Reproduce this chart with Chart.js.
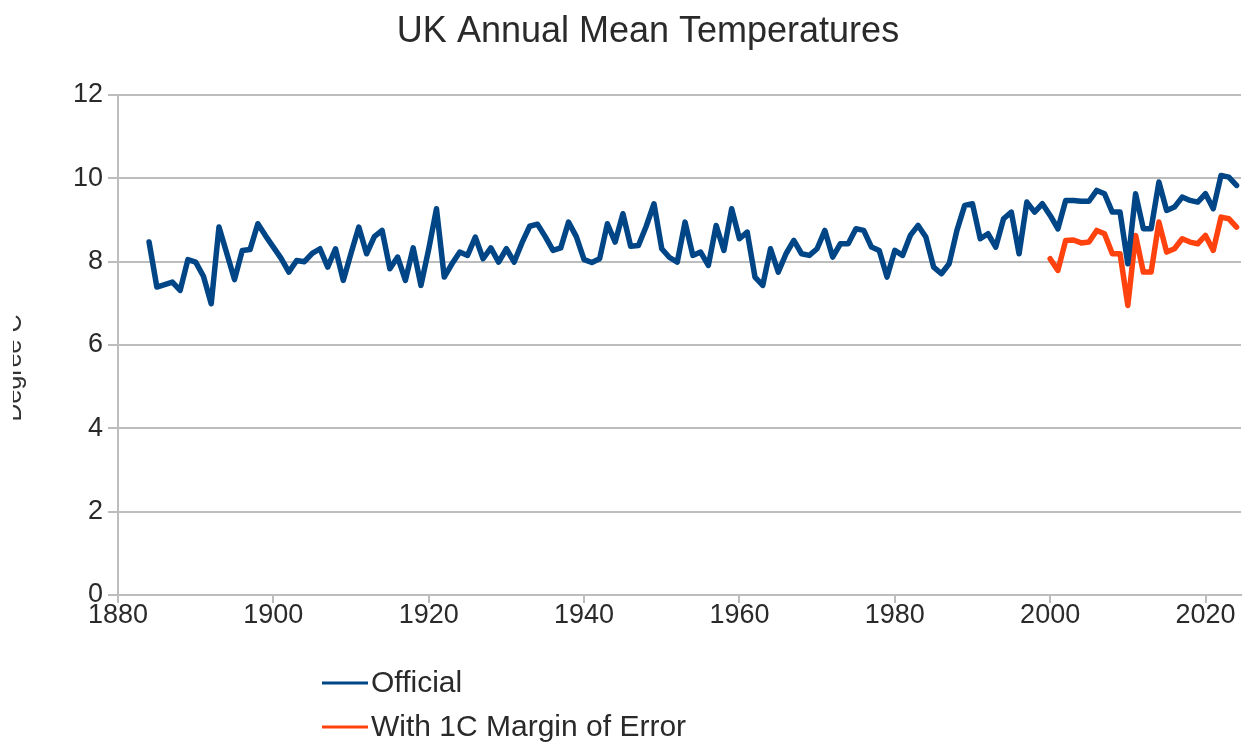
<!DOCTYPE html>
<html>
<head>
<meta charset="utf-8">
<title>UK Annual Mean Temperatures</title>
<script src="https://cdn.jsdelivr.net/npm/chart.js@4/dist/chart.umd.min.js"></script>
<style>
  html, body { margin: 0; padding: 0; background: #ffffff; }
  #wrap { position: relative; width: 1243px; height: 745px; }
</style>
</head>
<body>
<div id="wrap"><canvas id="chart"></canvas></div>
<script>
// Years of the official record
const years = [
  1884, 1885, 1886, 1887, 1888, 1889, 1890, 1891, 1892, 1893,
  1894, 1895, 1896, 1897, 1898, 1899, 1900, 1901, 1902, 1903,
  1904, 1905, 1906, 1907, 1908, 1909, 1910, 1911, 1912, 1913,
  1914, 1915, 1916, 1917, 1918, 1919, 1920, 1921, 1922, 1923,
  1924, 1925, 1926, 1927, 1928, 1929, 1930, 1931, 1932, 1933,
  1934, 1935, 1936, 1937, 1938, 1939, 1940, 1941, 1942, 1943,
  1944, 1945, 1946, 1947, 1948, 1949, 1950, 1951, 1952, 1953,
  1954, 1955, 1956, 1957, 1958, 1959, 1960, 1961, 1962, 1963,
  1964, 1965, 1966, 1967, 1968, 1969, 1970, 1971, 1972, 1973,
  1974, 1975, 1976, 1977, 1978, 1979, 1980, 1981, 1982, 1983,
  1984, 1985, 1986, 1987, 1988, 1989, 1990, 1991, 1992, 1993,
  1994, 1995, 1996, 1997, 1998, 1999, 2000, 2001, 2002, 2003,
  2004, 2005, 2006, 2007, 2008, 2009, 2010, 2011, 2012, 2013,
  2014, 2015, 2016, 2017, 2018, 2019, 2020, 2021, 2022, 2023,
  2024
];

// Official UK annual mean temperature, degrees C
const official = [
  8.47, 7.39, 7.45, 7.51, 7.31, 8.05, 7.99, 7.65, 6.99, 8.83,
  8.20, 7.57, 8.27, 8.29, 8.91, 8.62, 8.35, 8.08, 7.75, 8.03,
  8.00, 8.20, 8.31, 7.87, 8.31, 7.55, 8.20, 8.83, 8.19, 8.60,
  8.75, 7.83, 8.11, 7.55, 8.33, 7.43, 8.30, 9.27, 7.63, 7.95,
  8.23, 8.15, 8.59, 8.07, 8.33, 7.99, 8.31, 7.99, 8.45, 8.85,
  8.90, 8.60, 8.27, 8.33, 8.95, 8.60, 8.05, 7.98, 8.07, 8.91,
  8.47, 9.15, 8.37, 8.39, 8.85, 9.39, 8.31, 8.10, 7.99, 8.95,
  8.15, 8.23, 7.91, 8.87, 8.27, 9.27, 8.55, 8.71, 7.63, 7.43,
  8.31, 7.75, 8.19, 8.51, 8.19, 8.15, 8.31, 8.75, 8.11, 8.43,
  8.43, 8.79, 8.75, 8.35, 8.27, 7.63, 8.27, 8.15, 8.63, 8.87,
  8.59, 7.87, 7.71, 7.95, 8.75, 9.35, 9.39, 8.55, 8.67, 8.35,
  9.03, 9.19, 8.19, 9.43, 9.19, 9.39, 9.11, 8.79, 9.47, 9.47,
  9.45, 9.45, 9.71, 9.63, 9.19, 9.19, 7.95, 9.63, 8.79, 8.79,
  9.91, 9.23, 9.31, 9.55, 9.47, 9.43, 9.63, 9.27, 10.07, 10.03,
  9.83
];

// Years covered by the margin-of-error series
const marginYears = [
  2000, 2001, 2002, 2003, 2004, 2005, 2006, 2007, 2008, 2009,
  2010, 2011, 2012, 2013, 2014, 2015, 2016, 2017, 2018, 2019,
  2020, 2021, 2022, 2023, 2024
];

// Temperatures with a 1C margin of error, degrees C
const withMargin = [
  8.07, 7.79, 8.51, 8.52, 8.45, 8.47, 8.75, 8.67, 8.19, 8.19,
  6.95, 8.63, 7.75, 7.75, 8.95, 8.23, 8.31, 8.55, 8.47, 8.43,
  8.63, 8.27, 9.07, 9.03, 8.83
];

// Axis ticks
const yTicks = [0, 2, 4, 6, 8, 10, 12];
const xTicks = [1880, 1900, 1920, 1940, 1960, 1980, 2000, 2020];

const seriesNames = ['Official', 'With 1C Margin of Error'];
const seriesColors = ['#004586', '#ff420e'];

const FONT = '"Liberation Sans", Arial, sans-serif';
const GRID = '#bdbdbd';
const TEXT = '#2a2a2a';

// Title, clipped vertical axis caption and stacked legend
const decorPlugin = {
  id: 'decor',
  afterDraw(chart) {
    const ctx = chart.ctx;
    ctx.save();
    ctx.fillStyle = TEXT;
    ctx.font = '36px ' + FONT;
    ctx.textAlign = 'center';
    ctx.textBaseline = 'middle';
    ctx.fillText('UK Annual Mean Temperatures', 648, 32);
    ctx.restore();

    // vertical axis caption, partly hidden at the left edge
    ctx.save();
    ctx.beginPath();
    ctx.rect(13, 0, 30, chart.height);
    ctx.clip();
    ctx.translate(21, 368);
    ctx.rotate(-Math.PI / 2);
    ctx.fillStyle = '#333333';
    ctx.font = '25px ' + FONT;
    ctx.textAlign = 'center';
    ctx.textBaseline = 'alphabetic';
    ctx.fillText('Degree C', 0, 0);
    ctx.restore();

    // legend rows
    ctx.save();
    const rows = [683, 727];
    seriesNames.forEach((name, i) => {
      const y = rows[i];
      ctx.strokeStyle = seriesColors[i];
      ctx.lineWidth = 3;
      ctx.beginPath();
      ctx.moveTo(322, y);
      ctx.lineTo(368, y);
      ctx.stroke();
      ctx.fillStyle = TEXT;
      ctx.font = '30px ' + FONT;
      ctx.textAlign = 'left';
      ctx.textBaseline = 'middle';
      ctx.fillText(name, 371, y + 1);
    });
    ctx.restore();
  }
};

const officialPoints = years.map((yr, i) => ({ x: yr, y: official[i] }));
const marginPoints = marginYears.map((yr, i) => ({ x: yr, y: withMargin[i] }));

new Chart(document.getElementById('chart'), {
  type: 'line',
  data: {
    datasets: [
      {
        label: seriesNames[0],
        data: officialPoints,
        borderColor: seriesColors[0],
        backgroundColor: seriesColors[0],
        borderWidth: 5.5,
        borderJoinStyle: 'round',
        borderCapStyle: 'round',
        pointRadius: 0,
        tension: 0
      },
      {
        label: seriesNames[1],
        data: marginPoints,
        borderColor: seriesColors[1],
        backgroundColor: seriesColors[1],
        borderWidth: 5.5,
        borderJoinStyle: 'round',
        borderCapStyle: 'round',
        pointRadius: 0,
        tension: 0
      }
    ]
  },
  options: {
    responsive: true,
    maintainAspectRatio: false,
    animation: false,
    layout: { padding: { left: 0, right: 2, top: 95, bottom: 0 } },
    plugins: {
      legend: { display: false },
      title: { display: false },
      tooltip: { enabled: false }
    },
    scales: {
      x: {
        type: 'linear',
        min: 1880,
        max: 2024.57,
        afterBuildTicks(scale) { scale.ticks = xTicks.map(v => ({ value: v })); },
        afterFit(scale) { scale.height = 150; },
        ticks: {
          font: { family: FONT, size: 27 },
          color: TEXT,
          padding: -4,
          maxRotation: 0,
          autoSkip: false,
          callback: v => String(v)
        },
        grid: {
          drawOnChartArea: false,
          color: GRID,
          tickLength: 8,
          lineWidth: 2
        },
        border: { color: GRID, width: 2 }
      },
      y: {
        min: 0,
        max: 12,
        afterBuildTicks(scale) { scale.ticks = yTicks.map(v => ({ value: v })); },
        afterFit(scale) { scale.width = 118; },
        ticks: {
          font: { family: FONT, size: 27 },
          color: TEXT,
          padding: 5,
          callback: v => String(v)
        },
        grid: {
          color: GRID,
          tickLength: 10,
          lineWidth: 2
        },
        border: { color: GRID, width: 2 }
      }
    }
  },
  plugins: [decorPlugin]
});
</script>
</body>
</html>
